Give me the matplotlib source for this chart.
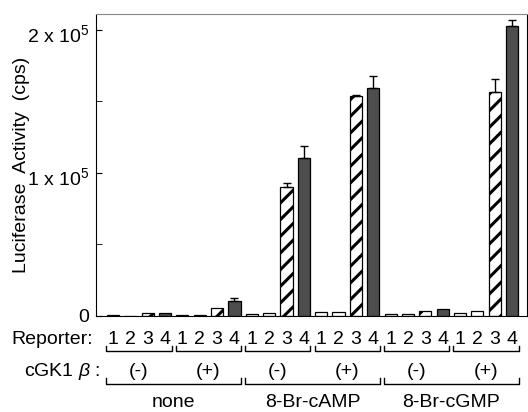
import matplotlib.pyplot as plt
import matplotlib.transforms as mtransforms
import numpy as np

plt.rcParams['font.family'] = ['Liberation Sans', 'DejaVu Sans']
plt.rcParams['mathtext.fontset'] = 'custom'
plt.rcParams['mathtext.rm'] = 'Liberation Sans'
plt.rcParams['mathtext.it'] = 'Liberation Sans:italic'
plt.rcParams['hatch.linewidth'] = 2.2

# data: 6 conditions x 4 reporters
treatments = ['none', '8-Br-cAMP', '8-Br-cGMP']
cgk_states = ['(-)', '(+)']
reporters = ['1', '2', '3', '4']

values = [700, 300, 1900, 2300,        # none (-)
          700, 900, 5800, 10200,       # none (+)
          1600, 2100, 90000, 110700,   # cAMP (-)
          2600, 3000, 153400, 159000,  # cAMP (+)
          1200, 1200, 3300, 5100,      # cGMP (-)
          2300, 3300, 156400, 202800]  # cGMP (+)
errors = [0, 0, 0, 0,
          0, 0, 0, 2100,
          0, 0, 3200, 8400,
          0, 0, 1200, 8600,
          0, 0, 0, 0,
          0, 0, 9100, 3700]

FS = 14
W, H = 528, 412
fig = plt.figure(figsize=(W / 100, H / 100), dpi=100)
ax = fig.add_axes([96 / W, 1 - 316 / H, 431 / W, 302 / H])

x = np.arange(len(values))
for i, (v, e) in enumerate(zip(values, errors)):
    kind = i % 4
    if kind == 3:
        ax.bar(x[i], v, 0.7, color='#4d4d4d', edgecolor='black', linewidth=0.9)
    elif kind == 2:
        ax.bar(x[i], v, 0.7, color='white', edgecolor='black', linewidth=0.9, hatch='//')
    else:
        ax.bar(x[i], v, 0.7, color='white', edgecolor='black', linewidth=0.9)
    if e > 0:
        ax.errorbar(x[i], v, yerr=[[0], [e]], color='black', capsize=3, elinewidth=1, capthick=1)

ax.set_xlim(-0.98, 23.86)
ax.set_ylim(0, 2.11e5)
ax.set_xticks([])
ax.set_yticks([0, 1e5, 2e5])
ax.set_yticklabels(['0', r'1 x 10$^5$', r'2 x 10$^5$'], fontsize=FS)
ax.set_yticks([0.5e5, 1.5e5], minor=True)
ax.tick_params(axis='y', which='both', direction='in', length=4, pad=5)
# the exponent labels sit a bit low in the original
for lab in ax.get_yticklabels()[1:]:
    lab.set_transform(lab.get_transform() + mtransforms.ScaledTranslation(0, -3 / 100, fig.dpi_scale_trans))
ax.spines['top'].set_color('#888888')
ax.spines['top'].set_linewidth(0.8)
ax.set_ylabel('Luciferase  Activity  (cps)', fontsize=FS)
ax.yaxis.set_label_coords(-0.152, 0.5)

# labels under the axis
trans = mtransforms.blended_transform_factory(ax.transData, fig.transFigure)

def fy(py):
    return 1 - py / H

fig.text(93 / W, fy(344), 'Reporter:', ha='right', va='baseline', fontsize=FS)
fig.text(100 / W, fy(376), r'cGK1 $\beta$ :', ha='right', va='baseline', fontsize=FS)

for i in x:
    ax.text(i, fy(344), reporters[i % 4], transform=trans, ha='center', va='baseline', fontsize=FS)

for g in range(6):
    a, b = 4 * g - 0.38, 4 * g + 3.38
    ax.plot([a, a, b, b], [fy(346), fy(351), fy(351), fy(346)], transform=trans,
            color='black', lw=1, clip_on=False)
    ax.text(4 * g + 1.5, fy(376), cgk_states[g % 2], transform=trans,
            ha='center', va='baseline', fontsize=FS)

for t in range(3):
    a, b = 8 * t - 0.38, 8 * t + 7.38
    ax.plot([a, a, b, b], [fy(378), fy(384), fy(384), fy(378)], transform=trans,
            color='black', lw=1, clip_on=False)
    ax.text(8 * t + 3.5, fy(407), treatments[t], transform=trans,
            ha='center', va='baseline', fontsize=FS)

fig.savefig('out.png', dpi=100)
